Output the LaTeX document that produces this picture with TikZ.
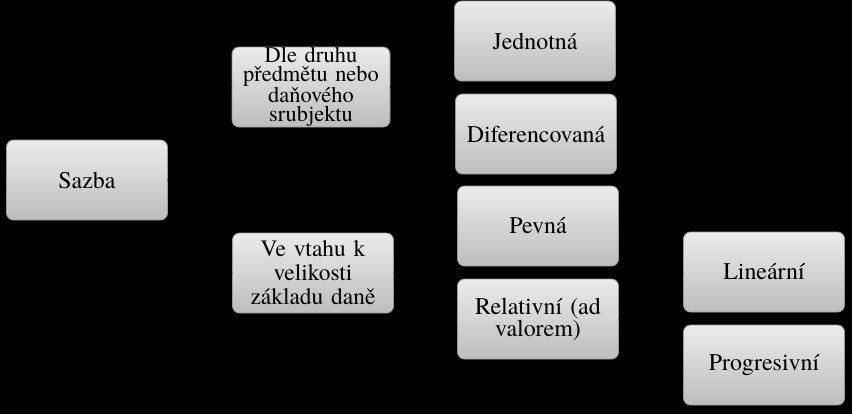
\documentclass[tikz,border=0pt]{standalone}
\usepackage{fontspec}
\setmainfont{TeX Gyre Termes}
\usepackage{tikz}
\definecolor{boxtop}{HTML}{EBEBEB}
\definecolor{boxbot}{HTML}{BDBDBD}
\definecolor{boxline}{HTML}{9A9A9A}
\tikzset{
  box/.style={draw=boxline, line width=0.8pt, rounded corners=7bp,
    top color=boxtop, bottom color=boxbot, minimum width=161bp,
    minimum height=80bp, text width=158bp, align=center, inner sep=0pt,
    font=\fontsize{24}{22}\selectfont},
  link/.style={draw=black, line width=1pt},
}
\begin{document}
\begin{tikzpicture}[x=1bp, y=-1bp]
  \fill[black] (0,0) rectangle (852,414);
  \useasboundingbox (0,0) rectangle (852,414);
  % root
  \node[box] (sazba) at (87,180) {Sazba};
  % second level
  \node[box, minimum width=157bp, font=\fontsize{22.5}{19}\selectfont]
    (druh) at (311,87) {Dle druhu\\ předmětu nebo\\ daňového\\ srubjektu};
  \node[box, font=\fontsize{23.5}{24}\selectfont]
    (velikost) at (313,273) {Ve vtahu k\\ velikosti\\ základu daně};
  % third level
  \node[box] (jednotna) at (535,41) {Jednotná};
  \node[box] (diferenc) at (536,134) {Diferencovaná};
  \node[box] (pevna) at (538,226) {Pevná};
  \node[box, font=\fontsize{24}{22}\selectfont]
    (relativni) at (538,319) {Relativní (ad\\ valorem)};
  % fourth level
  \node[box] (linearni) at (764,272) {Lineární};
  \node[box] (progres) at (764,365) {Progresivní};
  % connectors
  \draw[link] (sazba.east) -- (druh.west);
  \draw[link] (sazba.east) -- (velikost.west);
  \draw[link] (druh.east) -- (jednotna.west);
  \draw[link] (druh.east) -- (diferenc.west);
  \draw[link] (velikost.east) -- (pevna.west);
  \draw[link] (velikost.east) -- (relativni.west);
  \draw[link] (relativni.east) -- (linearni.west);
  \draw[link] (relativni.east) -- (progres.west);
\end{tikzpicture}
\end{document}
